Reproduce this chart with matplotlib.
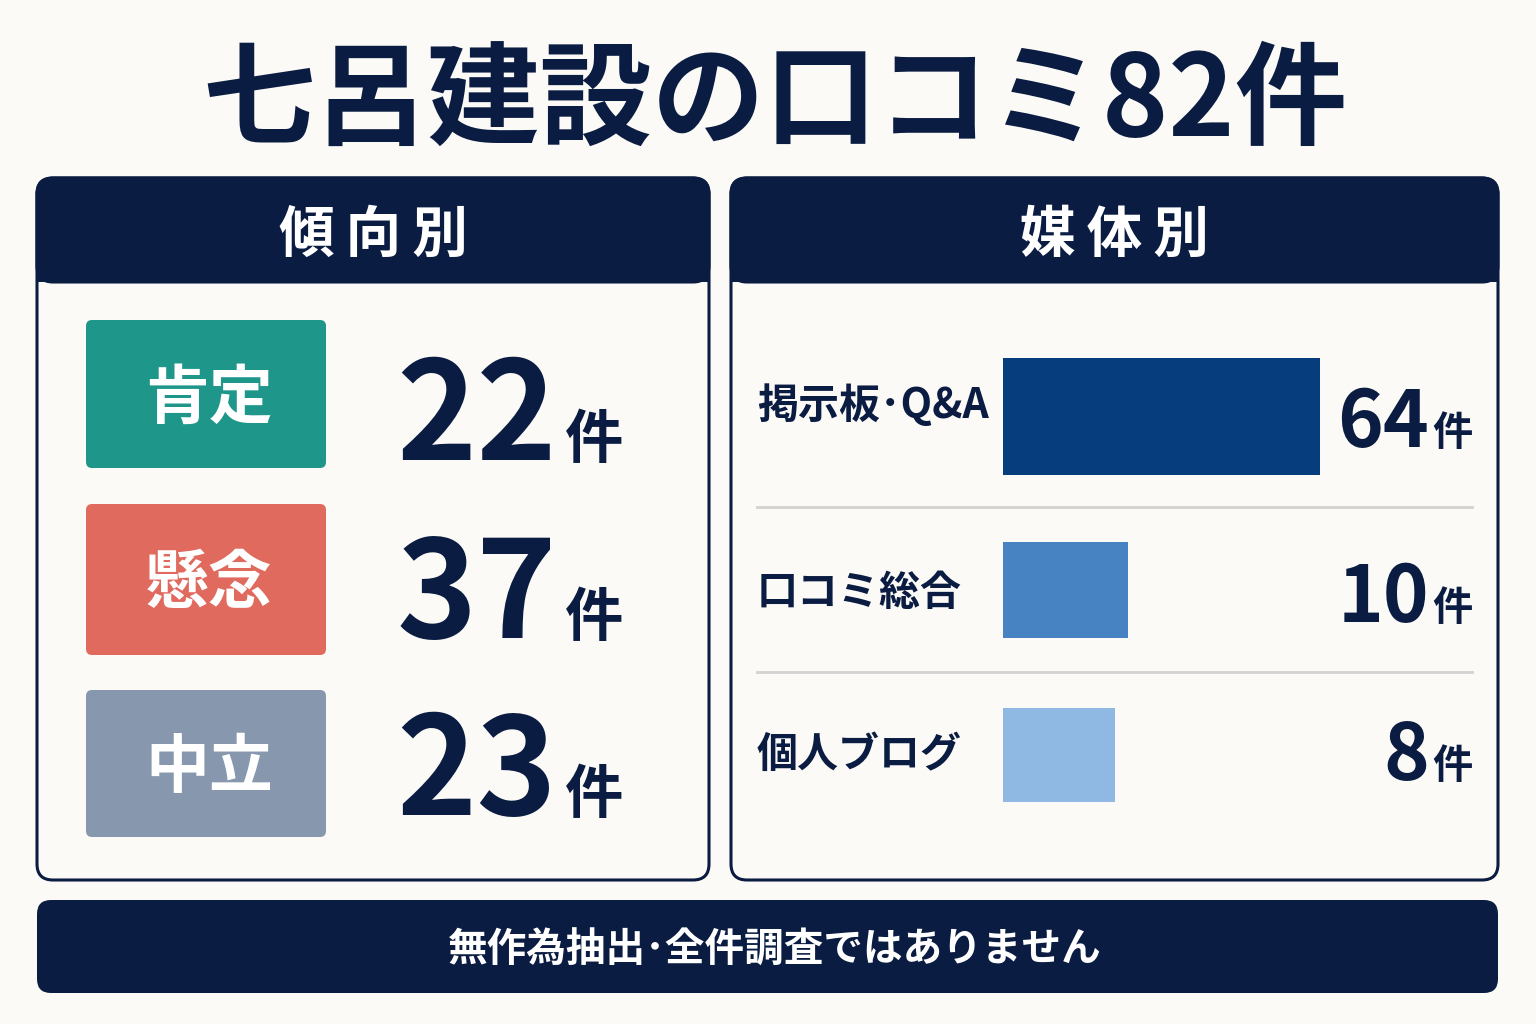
import numpy as np
import matplotlib
matplotlib.use("Agg")
from matplotlib import pyplot as plt
from matplotlib.patches import FancyBboxPatch, Rectangle

plt.rcParams['font.family'] = ['Noto Sans CJK JP', 'DejaVu Sans']

# data
title = "七呂建設の口コミ82件"
trend_header = "傾向別"
media_header = "媒体別"
trend_labels = ["肯定", "懸念", "中立"]
trend_counts = [22, 37, 23]
media_labels = ["掲示板･Q&A", "口コミ総合", "個人ブログ"]
media_counts = [64, 10, 8]
unit = "件"
footer = "無作為抽出･全件調査ではありません"

# colours
bg = "#fbfaf6"
navy = "#0b1c42"
trend_colors = ["#1e968a", "#e06a5e", "#8797ad"]
media_colors = ["#063d7c", "#4782c3", "#8fb8e2"]

W, H = 1536, 1024
fig = plt.figure(figsize=(W / 100, H / 100), dpi=100, facecolor=bg)
ax = fig.add_axes([0, 0, 1, 1])
ax.set_xlim(0, W)
ax.set_ylim(H, 0)
ax.axis('off')

# title
ax.text(775, 103, title, ha='center', va='center', fontsize=81,
        fontweight='bold', color=navy)


def panel(x0, x1, y0, y1, head_h, text):
    body = FancyBboxPatch((x0, y0), x1 - x0, y1 - y0,
                          boxstyle="round,pad=0,rounding_size=16",
                          fc=bg, ec=navy, lw=2.2, zorder=1)
    ax.add_patch(body)
    head = FancyBboxPatch((x0, y0), x1 - x0, head_h,
                          boxstyle="round,pad=0,rounding_size=16",
                          fc=navy, ec=navy, lw=2.2, zorder=2)
    ax.add_patch(head)
    # square off the lower corners of the header
    ax.add_patch(Rectangle((x0, y0 + head_h - 20), x1 - x0, 20,
                           fc=navy, ec='none', zorder=2))
    ax.text((x0 + x1) / 2, y0 + head_h / 2 + 6, "\u2009".join(text),
            ha='center', va='center', fontsize=40, fontweight='bold',
            color='white', zorder=3, family=['Noto Sans CJK JP', 'DejaVu Sans'])


panel(37, 709, 178, 880, 104, trend_header)
panel(731, 1498, 178, 880, 104, media_header)

# left panel: tiles with counts
tile_top = [320, 504, 690]
tile_h = [148, 151, 147]
num_base = [460, 638, 815]
for lab, cnt, col, ty, th, nb in zip(trend_labels, trend_counts, trend_colors,
                                     tile_top, tile_h, num_base):
    ax.add_patch(FancyBboxPatch((86, ty), 240, th,
                                boxstyle="round,pad=0,rounding_size=6",
                                fc=col, ec='none', zorder=2))
    ax.text(209, ty + th / 2 + 5, lab, ha='center', va='center', fontsize=46,
            fontweight='bold', color='white', zorder=3)
    ax.text(396, nb, str(cnt), ha='left', va='baseline', fontsize=98,
            fontweight='bold', color=navy, zorder=3)
    ax.text(565, nb - 2, unit, ha='left', va='baseline', fontsize=42,
            fontweight='bold', color=navy, zorder=3)

# right panel: bars
row_y = [416, 590, 755]
bar_h = [117, 96, 94]
label_y = [406, 593, 755]
val_base = [447, 622, 780]
bax = fig.add_axes([1003 / W, 0, (1320 - 1003) / W, 1])
bax.set_xscale('function', functions=(np.sqrt, np.square))
bax.set_xlim(0, max(media_counts))
bax.set_ylim(H, 0)
bax.axis('off')
bax.barh(row_y, media_counts, height=bar_h, color=media_colors, zorder=2)

for lab, cnt, ly, vb in zip(media_labels, media_counts, label_y, val_base):
    ax.text(757, ly, lab, ha='left', va='center', fontsize=29.5,
            fontweight='bold', color=navy, zorder=3)
    ax.text(1429, vb, str(cnt), ha='right', va='baseline', fontsize=56,
            fontweight='bold', color=navy, zorder=3)
    ax.text(1473, vb - 2, unit, ha='right', va='baseline', fontsize=29,
            fontweight='bold', color=navy, zorder=3)

for sy in [507, 672]:
    ax.plot([757, 1472], [sy, sy], color="#d2d2d2", lw=2, zorder=2)

# footer
ax.add_patch(FancyBboxPatch((37, 900), 1461, 93,
                            boxstyle="round,pad=0,rounding_size=14",
                            fc=navy, ec='none', zorder=2))
ax.text(775, 950, footer, ha='center', va='center', fontsize=28.5,
        fontweight='bold', color='white', zorder=3)

fig.savefig("out.png", dpi=100, facecolor=bg)
